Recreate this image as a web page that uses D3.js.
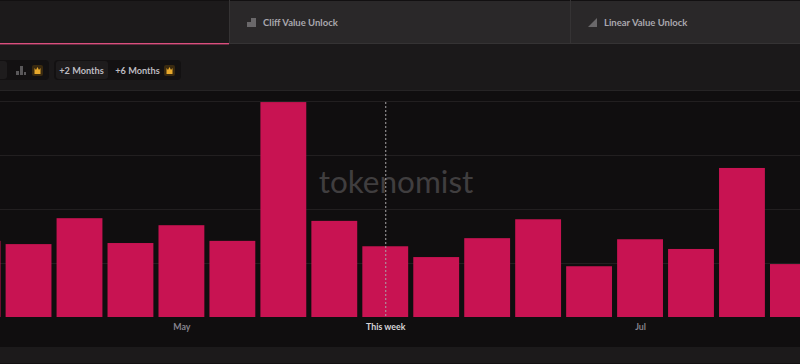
<!DOCTYPE html>
<html>
<head>
<meta charset="utf-8">
<script src="https://cdn.jsdelivr.net/npm/d3@7"></script>
<style>
  html, body { margin: 0; padding: 0; background: #100e0f; overflow: hidden; }
  text { font-family: Lato, sans-serif; }
</style>
</head>
<body>
<script>
// weekly buckets, only part of the range is on screen
const weeks = ["w01", "w02", "w03", "w04", "w05", "w06", "w07", "w08", "w09",
  "w10", "w11", "w12", "w13", "w14", "w15", "w16", "w17"];
// in gridline units
const unlockValues = [1.41, 1.35, 1.83, 1.37, 1.70, 1.41, 3.98, 1.78, 1.31,
  1.11, 1.46, 1.81, 0.94, 1.44, 1.26, 2.76, 0.98];
const tickWeeks = ["w05", "w09", "w14"];
const tickLabels = ["May", "This week", "Jul"];
const gridValues = [1, 2, 3, 4];
const currentWeek = "w09";
const tabLabels = ["Cliff Value Unlock", "Linear Value Unlock"];
const rangeLabels = ["+2 Months", "+6 Months"];

function drawPanels(svg) {
  svg.append("rect").attr("width", 800).attr("height", 364).attr("fill", "#100e0f");
  // tab strip
  svg.append("rect").attr("width", 229).attr("height", 44).attr("fill", "#1c1a1b");
  svg.append("rect").attr("x", 229).attr("width", 571).attr("height", 44).attr("fill", "#2a2829");
  svg.append("rect").attr("width", 800).attr("height", 1).attr("fill", "#121011");
  svg.append("rect").attr("x", 229).attr("y", 43).attr("width", 571).attr("height", 1).attr("fill", "#353334");
  svg.append("rect").attr("x", 229).attr("width", 1).attr("height", 44).attr("fill", "#353334");
  svg.append("rect").attr("x", 570).attr("width", 1).attr("height", 44).attr("fill", "#353334");
  // toolbar and footer
  svg.append("rect").attr("y", 44).attr("width", 800).attr("height", 47).attr("fill", "#1b191a");
  svg.append("rect").attr("y", 90).attr("width", 800).attr("height", 1).attr("fill", "#262425");
  svg.append("rect").attr("y", 347).attr("width", 800).attr("height", 17).attr("fill", "#1c1a1b");
  svg.append("rect").attr("y", 363).attr("width", 800).attr("height", 1).attr("fill", "#121011");
  // active tab underline
  svg.append("rect").attr("y", 43).attr("width", 229).attr("height", 1.4).attr("fill", "#dc4f7f");
}

function drawTabs(svg) {
  const tabX = [263, 604];
  svg.selectAll("text.tab")
    .data(tabLabels)
    .enter()
    .append("text")
    .attr("class", "tab")
    .text(function(d) { return d; })
    .attr("x", function(d, i) { return tabX[i]; })
    .attr("y", 26)
    .attr("font-size", "9.5px")
    .attr("font-weight", 700)
    .attr("fill", "#a9a7ad");
  // stepped icon and ramp icon
  svg.append("path").attr("d", "M247 27V22H251V18H256V27Z").attr("fill", "#6a686a");
  svg.append("path").attr("d", "M588 27L597 18V27Z").attr("fill", "#6a686a");
}

function crown(svg, x) {
  svg.append("rect").attr("x", x).attr("y", 65).attr("width", 11).attr("height", 11)
    .attr("rx", 2).attr("fill", "#3a2a10");
  svg.append("path")
    .attr("d", "M" + (x + 2.5) + " 74V68L" + (x + 4) + " 70L" + (x + 5.5) + " 67L" + (x + 7) + " 70L" + (x + 8.5) + " 68V74Z")
    .attr("fill", "#e8a92c");
}

function drawToolbar(svg) {
  svg.append("rect").attr("x", -8).attr("y", 60).attr("width", 57).attr("height", 20).attr("rx", 4).attr("fill", "#131112");
  svg.append("rect").attr("x", 54).attr("y", 60).attr("width", 127).attr("height", 20).attr("rx", 4).attr("fill", "#131112");
  svg.append("rect").attr("x", -8).attr("y", 61).attr("width", 15).attr("height", 18).attr("rx", 3).attr("fill", "#1e1c1d");
  svg.append("rect").attr("x", 56).attr("y", 61).attr("width", 52).attr("height", 18).attr("rx", 3).attr("fill", "#1e1c1d");
  // little bar chart icon
  svg.append("path").attr("d", "M16 75V71H19V75ZM20 75V66H23V75ZM24 75V72H26V75Z").attr("fill", "#5a585a");
  crown(svg, 32);
  crown(svg, 164);
  const rangeX = [81.5, 137.5];
  svg.selectAll("text.range")
    .data(rangeLabels)
    .enter()
    .append("text")
    .attr("class", "range")
    .text(function(d) { return d; })
    .attr("x", function(d, i) { return rangeX[i]; })
    .attr("y", 74)
    .attr("text-anchor", "middle")
    .attr("font-size", "9.2px")
    .attr("font-weight", 700)
    .attr("fill", "#bdbbc0");
}

function drawChart(svg) {
  var x = d3.scaleBand()
    .domain(weeks)
    .range([-47.9, 818.4])
    .paddingInner(0.1)
    .paddingOuter(0.05);

  var y = d3.scaleLinear()
    .domain([0, 4])
    .range([317, 101]);

  // gridlines
  var yAxis = d3.axisLeft(y)
    .tickValues(gridValues)
    .tickSize(-800)
    .tickFormat("");
  var grid = svg.append("g").call(yAxis);
  grid.select(".domain").remove();
  grid.selectAll("line").attr("stroke", "#221f20");

  svg.append("text")
    .text("tokenomist")
    .attr("x", 396)
    .attr("y", 193)
    .attr("text-anchor", "middle")
    .attr("font-size", "31.5px")
    .attr("fill", "#403e3f");

  svg.selectAll("rect.bar")
    .data(unlockValues)
    .enter()
    .append("rect")
    .attr("class", "bar")
    .attr("x", function(d, i) { return x(weeks[i]); })
    .attr("y", function(d) { return y(d); })
    .attr("width", x.bandwidth())
    .attr("height", function(d) { return y(0) - y(d); })
    .attr("fill", "#c81352");

  // this week marker
  var nowX = x(currentWeek) + x.bandwidth() / 2 + 0.5;
  svg.append("line")
    .attr("x1", nowX).attr("x2", nowX)
    .attr("y1", 102).attr("y2", 317)
    .attr("stroke", "#a8a6a8")
    .attr("stroke-dasharray", "2,2");

  var xAxis = d3.axisBottom(x)
    .tickValues(tickWeeks)
    .tickSize(0)
    .tickPadding(7)
    .tickFormat(function(d) { return tickLabels[tickWeeks.indexOf(d)]; });
  var axis = svg.append("g")
    .attr("transform", "translate(0.5,317)")
    .call(xAxis);
  axis.select(".domain").remove();
  axis.selectAll("text")
    .attr("font-size", "8.8px")
    .attr("font-weight", 700)
    .attr("fill", function(d) { return d === currentWeek ? "#d6d4d8" : "#84828c"; })
    .style("font-family", "Lato, sans-serif");
}

function main() {
  var svg = d3.select("body")
    .append("svg")
    .attr("width", 800)
    .attr("height", 364)
    .style("display", "block");
  drawPanels(svg);
  drawTabs(svg);
  drawToolbar(svg);
  drawChart(svg);
}

window.onload = function() {
  main();
};
</script>
</body>
</html>
